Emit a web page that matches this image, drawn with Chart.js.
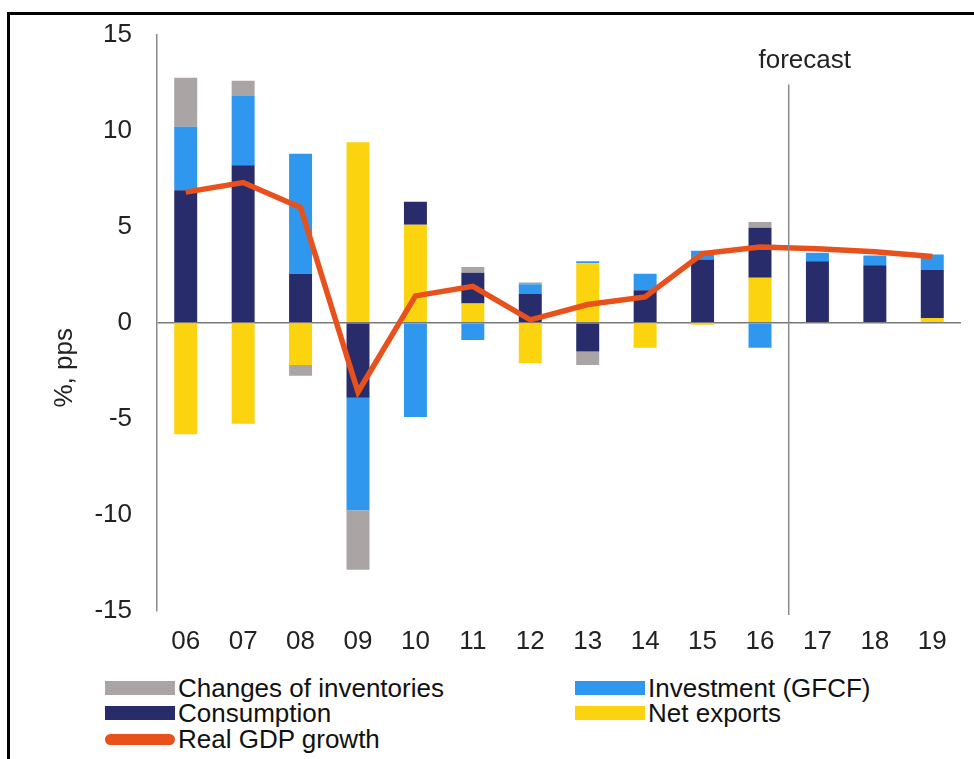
<!DOCTYPE html>
<html>
<head>
<meta charset="utf-8">
<script src="https://cdn.jsdelivr.net/npm/chart.js@4"></script>
<style>
  html, body { margin: 0; padding: 0; background: #fff; }
  body { width: 974px; height: 759px; position: relative; overflow: hidden; font-family: "Liberation Sans", Arial, sans-serif; }
  .frame { position: absolute; left: 7px; top: 12px; right: -10px; bottom: -10px; border-top: 3px solid #000; border-left: 3px solid #000; }
  #wrap { position: absolute; left: 0; top: -6px; width: 974px; height: 671px; }
  .legend { position: absolute; left: 0; top: 0; font-size: 26px; color: #111; }
  .item { position: absolute; display: flex; align-items: center; white-space: nowrap; height: 26px; line-height: 26px; }
  .swatch { width: 70px; height: 14px; margin-right: 3px; }
</style>
</head>
<body>
<div class="frame"></div>
<div id="wrap"><canvas id="gdpChart" width="974" height="671"></canvas></div>
<div class="legend" id="legend"></div>
<script>
/* DATA */
const years = ["06", "07", "08", "09", "10", "11", "12", "13", "14", "15", "16", "17", "18", "19"];
const netExports = [-5.8, -5.25, -2.2, 9.4, 5.1, 1.0, -2.1, 3.1, -1.3, -0.1, 2.35, 0, 0, 0.25];
const consumption = [6.9, 8.2, 2.55, -3.9, 1.2, 1.6, 1.5, -1.5, 1.7, 3.3, 2.6, 3.2, 3.0, 2.5];
const investment = [3.3, 3.6, 6.25, -5.85, -4.9, -0.9, 0.5, 0.1, 0.85, 0.45, -1.3, 0.45, 0.5, 0.8];
const inventories = [2.55, 0.8, -0.55, -3.1, 0, 0.3, 0.1, -0.7, 0, 0, 0.3, 0, 0, 0];
const gdpGrowth = [6.8, 7.3, 6.0, -3.6, 1.4, 1.9, 0.15, 0.95, 1.35, 3.6, 3.95, 3.85, 3.7, 3.45];
const yTicks = [15, 10, 5, 0, -5, -10, -15];
const forecastFrom = 11; // first forecast year index

const COLORS = {
  inv: "#aaa4a4",
  gfcf: "#2f98ee",
  cons: "#282c6a",
  nx: "#fbd30f",
  gdp: "#e8501c",
};
const FONT = '"Liberation Sans", Arial, sans-serif';

/* forecast line + y title */
const extras = {
  id: "extras",
  afterDatasetsDraw(chart) {
    const { ctx, scales: { x, y }, chartArea } = chart;
    const fx = (x.getPixelForValue(forecastFrom - 1) + x.getPixelForValue(forecastFrom)) / 2;
    ctx.save();
    ctx.strokeStyle = "#8a8a8a";
    ctx.lineWidth = 1.5;
    ctx.beginPath();
    ctx.moveTo(fx, y.getPixelForValue(12.4));
    ctx.lineTo(fx, chartArea.bottom + 4);
    ctx.stroke();
    ctx.fillStyle = "#222";
    ctx.font = "26px " + FONT;
    ctx.textAlign = "center";
    ctx.textBaseline = "middle";
    ctx.fillText("forecast", fx + 16, 67);
    ctx.translate(65, (chartArea.top + chartArea.bottom) / 2 + 45);
    ctx.rotate(-Math.PI / 2);
    ctx.fillText("%, pps", 0, 0);
    ctx.restore();
  },
};

const bar = (label, data, color) => ({
  type: "bar",
  label,
  data,
  backgroundColor: color,
  stack: "parts",
  order: 2,
  categoryPercentage: 1,
  barPercentage: 0.4,
});

const chart = new Chart(document.getElementById("gdpChart"), {
  data: {
    labels: years,
    datasets: [
      {
        type: "line",
        label: "Real GDP growth",
        data: gdpGrowth,
        borderColor: COLORS.gdp,
        backgroundColor: COLORS.gdp,
        borderWidth: 5.5,
        pointRadius: 0,
        tension: 0,
        stack: "gdp",
        order: 1,
      },
      bar("Net exports", netExports, COLORS.nx),
      bar("Consumption", consumption, COLORS.cons),
      bar("Investment (GFCF)", investment, COLORS.gfcf),
      bar("Changes of inventories", inventories, COLORS.inv),
    ],
  },
  options: {
    responsive: false,
    animation: false,
    layout: { padding: { left: 0, right: 13, top: 20, bottom: 9 } },
    plugins: { legend: { display: false }, tooltip: { enabled: false } },
    scales: {
      x: {
        stacked: true,
        grid: { display: false },
        border: { display: false },
        ticks: { color: "#222", maxRotation: 0, autoSkip: false, font: { size: 26, family: FONT }, padding: 7 },
        afterFit: (s) => { s.height = 45; },
      },
      y: {
        stacked: true,
        min: -15,
        max: 15,
        afterBuildTicks: (s) => { s.ticks = yTicks.map((v) => ({ value: v })); },
        grid: {
          drawTicks: false,
          color: (c) => (c.tick && c.tick.value === 0 ? "#7a7a7a" : "rgba(0,0,0,0)"),
          lineWidth: 1.5,
        },
        border: { display: true, color: "#8a8a8a", width: 1.5 },
        ticks: { color: "#222", font: { size: 26, family: FONT }, padding: 25 },
        afterFit: (s) => { s.width = 157; },
      },
    },
  },
  plugins: [extras],
});

/* LEGEND (html, two columns) */
const legendItems = [
  { text: "Changes of inventories", color: COLORS.inv, x: 105, y: 675 },
  { text: "Investment (GFCF)", color: COLORS.gfcf, x: 575, y: 675 },
  { text: "Consumption", color: COLORS.cons, x: 105, y: 700 },
  { text: "Net exports", color: COLORS.nx, x: 575, y: 700 },
  { text: "Real GDP growth", color: COLORS.gdp, x: 105, y: 726, line: true },
];
const legend = document.getElementById("legend");
legendItems.forEach((it) => {
  const row = document.createElement("div");
  row.className = "item";
  row.style.left = it.x + "px";
  row.style.top = it.y + "px";
  const sw = document.createElement("span");
  sw.className = "swatch";
  sw.style.background = it.color;
  if (it.line) { sw.style.height = "11px"; sw.style.borderRadius = "6px"; }
  const tx = document.createElement("span");
  tx.textContent = it.text;
  row.appendChild(sw);
  row.appendChild(tx);
  legend.appendChild(row);
});
</script>
</body>
</html>
